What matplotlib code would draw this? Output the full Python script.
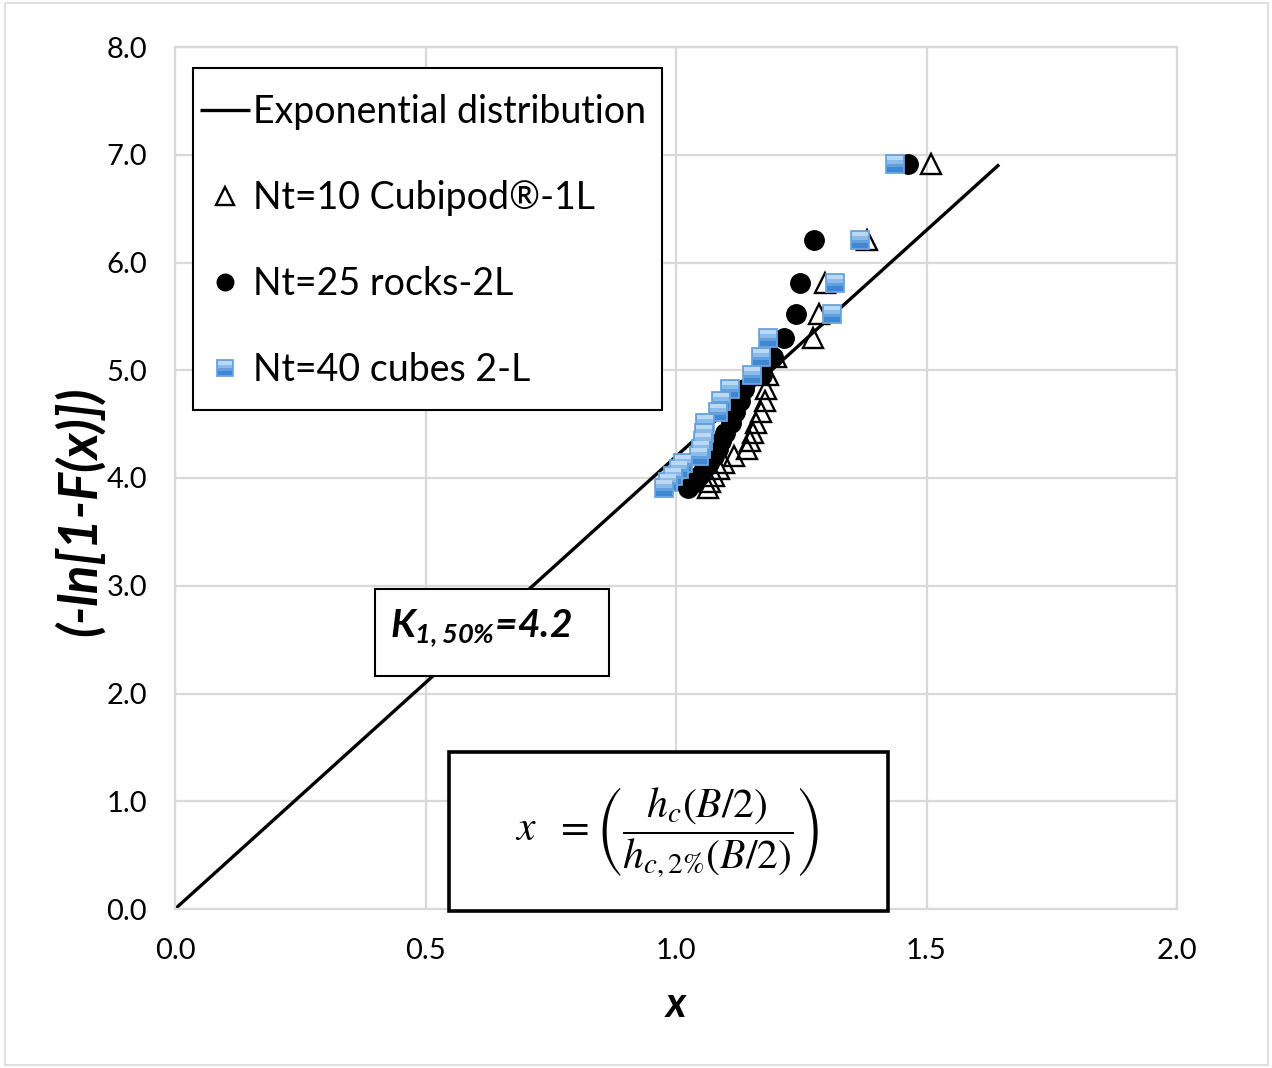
import matplotlib
matplotlib.use("Agg")
import matplotlib.pyplot as plt
from matplotlib.patches import Rectangle
from matplotlib.path import Path

plt.rcParams['font.family'] = ['Lato', 'DejaVu Sans']
plt.rcParams['mathtext.fontset'] = 'custom'
plt.rcParams['mathtext.rm'] = 'Lato:bold:italic'
plt.rcParams['mathtext.it'] = 'Lato:bold:italic'
plt.rcParams['mathtext.bf'] = 'Lato:bold:italic'

# Exponential fit: y = K * x
K = 4.2
line_x = [0.0, 1.645]
line_y = [K * v for v in line_x]

# Plotting positions -ln[1-F(x)] for the 20 highest values of each test
y_rank = [6.91, 6.21, 5.81, 5.52, 5.30, 5.12, 4.96, 4.83, 4.71, 4.61,
          4.51, 4.42, 4.34, 4.27, 4.20, 4.14, 4.08, 4.02, 3.96, 3.91]

x_cubipod = [1.508, 1.382, 1.298, 1.286, 1.274, 1.200, 1.184, 1.180, 1.178, 1.170,
             1.160, 1.154, 1.148, 1.142, 1.116, 1.096, 1.086, 1.076, 1.068, 1.064]
x_rocks = [1.464, 1.276, 1.248, 1.240, 1.216, 1.194, 1.172, 1.136, 1.128, 1.118,
           1.110, 1.098, 1.090, 1.084, 1.076, 1.066, 1.056, 1.046, 1.036, 1.024]
x_cubes = [1.438, 1.368, 1.318, 1.312, 1.184, 1.170, 1.152, 1.108, 1.090, 1.084,
           1.058, 1.056, 1.054, 1.050, 1.046, 1.014, 1.006, 0.994, 0.984, 0.976]

labels = ["Exponential distribution", "Nt=10 Cubipod\u00ae-1L",
          "Nt=25 rocks-2L", "Nt=40 cubes 2-L"]

x_ticks = [0.0, 0.5, 1.0, 1.5, 2.0]
y_ticks = [0.0, 1.0, 2.0, 3.0, 4.0, 5.0, 6.0, 7.0, 8.0]

W, H = 1272, 1068
AX_L, AX_T, AX_R, AX_B = 175, 47, 1177, 909
AW, AH = AX_R - AX_L, AX_B - AX_T


def ax_frac(px, py):
    """Pixel position on the canvas -> axes fraction."""
    return (px - AX_L) / AW, (AX_B - py) / AH


def band_marker(y0, y1, inset=0.86):
    """Horizontal band inside the unit square marker (coords in [-1, 1])."""
    verts = [(1, 1), (-inset, y0), (inset, y0), (inset, y1), (-inset, y1),
             (-inset, y0)]
    codes = [Path.MOVETO, Path.MOVETO, Path.LINETO, Path.LINETO, Path.LINETO,
             Path.CLOSEPOLY]
    return Path(verts, codes)


fig = plt.figure(figsize=(W / 100, H / 100), dpi=100)
ax = fig.add_axes([AX_L / W, 1 - AX_B / H, AW / W, AH / H])

ax.set_xlim(0, 2)
ax.set_ylim(0, 8)
ax.set_xticks(x_ticks)
ax.set_yticks(y_ticks)
ax.set_xticklabels([f"{v:.1f}" for v in x_ticks])
ax.set_yticklabels([f"{v:.1f}" for v in y_ticks])
ax.tick_params(length=0, labelsize=21, colors='black')
ax.tick_params(axis='y', pad=20)
ax.tick_params(axis='x', pad=21)
ax.grid(True, color='#d9d9d9', linewidth=1.6)
ax.set_axisbelow(True)
for s in ax.spines.values():
    s.set_color('#d9d9d9')
    s.set_linewidth(1.6)

exp_line, = ax.plot(line_x, line_y, color='black', linewidth=2.4, zorder=2,
                    solid_capstyle='butt')
tri, = ax.plot(x_cubipod, y_rank, linestyle='none', marker='^', markersize=15,
               markerfacecolor='none', markeredgecolor='black',
               markeredgewidth=1.7, zorder=3)
circ, = ax.plot(x_rocks, y_rank, linestyle='none', marker='o', markersize=14,
                markerfacecolor='black', markeredgecolor='black', zorder=4)

# Blue squares with a light-to-dark vertical shading
SQ_MS = 13
sq_parts = []
sq_base, = ax.plot(x_cubes, y_rank, linestyle='none', marker='s',
                   markersize=SQ_MS, markerfacecolor='#3f87d2',
                   markeredgecolor='#6ba5df', markeredgewidth=1.3, zorder=5)
sq_parts.append(sq_base)
for (b0, b1), col in zip([(-0.35, 0.86), (0.05, 0.86), (0.40, 0.86)],
                         ['#629fdc', '#8bbbe8', '#bcd7f2']):
    part, = ax.plot(x_cubes, y_rank, linestyle='none',
                    marker=band_marker(b0, b1), markersize=SQ_MS,
                    markerfacecolor=col, markeredgewidth=0, zorder=5)
    sq_parts.append(part)

# Legend drawn without its own frame, inside a separate box
lx0, ly0 = ax_frac(193, 410)
lx1, ly1 = ax_frac(662, 68)
ax.add_patch(Rectangle((lx0, ly0), lx1 - lx0, ly1 - ly0, transform=ax.transAxes,
                       facecolor='white', edgecolor='black', linewidth=1.5,
                       zorder=6))
leg = ax.legend([exp_line, tri, circ, tuple(sq_parts)], labels,
                loc='upper left', bbox_to_anchor=ax_frac(200, 94),
                frameon=False, borderpad=0, borderaxespad=0, fontsize=27,
                handlelength=1.33, handletextpad=0.08, labelspacing=1.33,
                markerscale=0.85)
leg.set_zorder(7)

# K annotation box
kx0, ky0 = ax_frac(375, 676)
kx1, ky1 = ax_frac(609, 589)
ax.add_patch(Rectangle((kx0, ky0), kx1 - kx0, ky1 - ky0, transform=ax.transAxes,
                       facecolor='white', edgecolor='black', linewidth=1.5,
                       zorder=6))
ax.text(*ax_frac(390, 628), r"$K_{1,50\%}$=4.2", transform=ax.transAxes,
        fontsize=28, fontweight='bold', style='italic',
        ha='left', va='center', zorder=7)

# Definition of x
fx0, fy0 = ax_frac(449, 911)
fx1, fy1 = ax_frac(888, 752)
ax.add_patch(Rectangle((fx0, fy0), fx1 - fx0, fy1 - fy0, transform=ax.transAxes,
                       facecolor='white', edgecolor='black', linewidth=2.6,
                       zorder=6, clip_on=False))
ax.text(*ax_frac(667, 833),
        r"$x\ \ =\left(\dfrac{h_c(B/2)}{h_{c,2\%}(B/2)}\right)$",
        transform=ax.transAxes, math_fontfamily='stix', fontsize=30,
        ha='center', va='center', zorder=7)

ax.set_xlabel("x", fontsize=30, fontweight='bold', style='italic', va='center')
ax.set_ylabel("(-ln[1-F(x)])", fontsize=38, fontweight='bold', style='italic',
              va='center')
ax.xaxis.set_label_coords(*ax_frac(676, 1005))
ax.yaxis.set_label_coords(*ax_frac(80, 511))

# Outer frame
fig.patches.append(Rectangle((5 / W, 3 / H), 1263 / W, 1 - 6 / H,
                             transform=fig.transFigure, facecolor='none',
                             edgecolor='#d9d9d9', linewidth=1.2))

fig.savefig("out.png", dpi=100)
